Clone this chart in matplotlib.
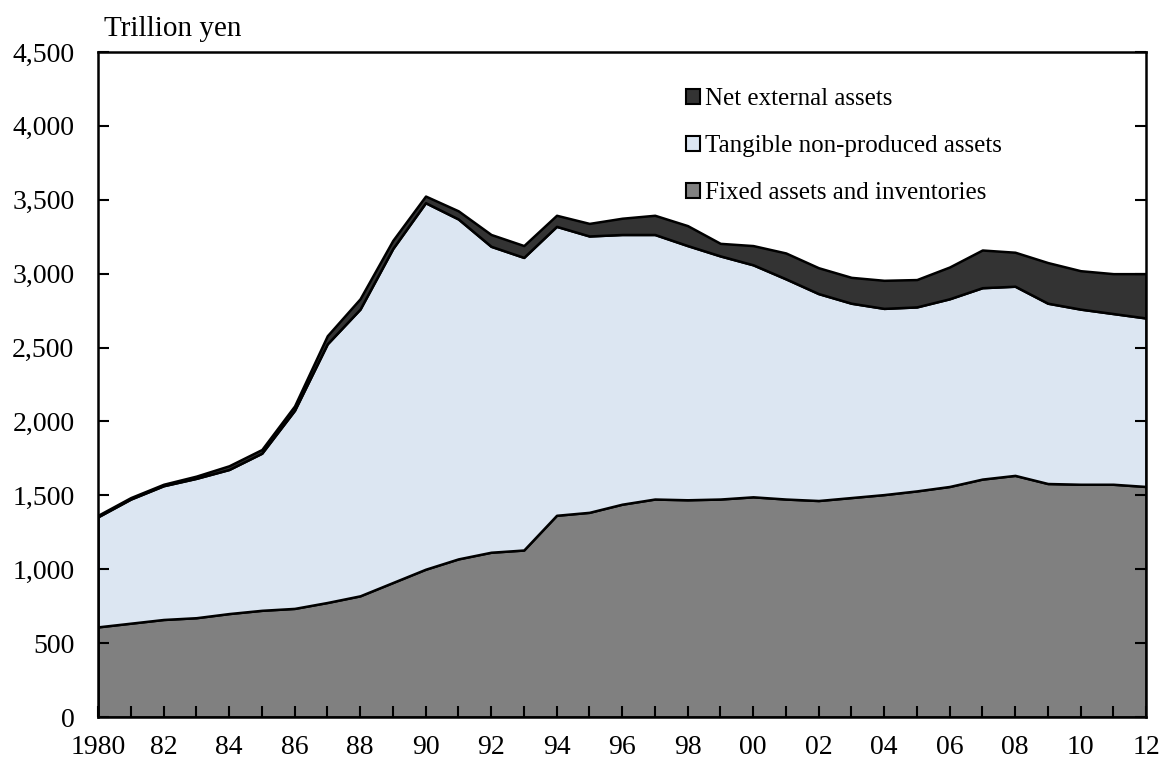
import numpy as np
import matplotlib.pyplot as plt
from matplotlib.patches import Patch
from matplotlib.ticker import FuncFormatter, MultipleLocator

plt.rcParams["font.family"] = ["Liberation Serif", "DejaVu Serif"]

years = list(range(1980, 2013))

# top of each layer (trillion yen)
fixed_assets = [610, 635, 660, 672, 700, 722, 735, 775, 820, 910,
                1000, 1070, 1115, 1130, 1365, 1385, 1440, 1475, 1470, 1475,
                1490, 1475, 1465, 1485, 1505, 1530, 1560, 1610, 1635, 1580,
                1575, 1575, 1560]
land_top = [1355, 1475, 1565, 1615, 1675, 1785, 2075, 2525, 2760, 3170,
            3480, 3370, 3185, 3110, 3320, 3255, 3265, 3265, 3190, 3120,
            3060, 2965, 2865, 2800, 2765, 2775, 2830, 2905, 2915, 2800,
            2760, 2730, 2700]
total_top = [1365, 1485, 1575, 1630, 1700, 1810, 2105, 2580, 2830, 3225,
             3525, 3425, 3265, 3190, 3395, 3340, 3375, 3395, 3325, 3205,
             3190, 3140, 3040, 2975, 2955, 2960, 3045, 3160, 3145, 3075,
             3020, 3000, 3000]

tangible = np.array(land_top) - np.array(fixed_assets)
net_external = np.array(total_top) - np.array(land_top)

colors = ["#808080", "#dce6f2", "#333333"]
labels = ["Fixed assets and inventories", "Tangible non-produced assets", "Net external assets"]

fig = plt.figure(figsize=(11.63, 7.61), dpi=100, facecolor="w")
ax = fig.add_axes([0.0843, 0.0578, 0.9011, 0.8739])

ax.stackplot(years, fixed_assets, tangible, net_external, colors=colors,
             edgecolor="black", linewidth=1.8)

ax.set_xlim(1980, 2012)
ax.set_ylim(0, 4500)
ax.yaxis.set_major_locator(MultipleLocator(500))
ax.yaxis.set_major_formatter(FuncFormatter(lambda v, p: f"{int(v):,}"))
ax.set_xticks(range(1980, 2013, 2))
ax.set_xticklabels(["1980"] + [f"{y % 100:02d}" for y in range(1982, 2013, 2)])
ax.xaxis.set_minor_locator(MultipleLocator(1))

ax.tick_params(axis="both", which="both", direction="in", labelsize=20, width=1.5)
ax.tick_params(axis="x", which="both", length=8, pad=13)
ax.tick_params(axis="y", length=8, pad=17, right=True)
for s in ax.spines.values():
    s.set_linewidth(1.8)

fig.text(0.089, 1 - 36 / 761, "Trillion yen", fontsize=21, ha="left", va="baseline")

handles = [Patch(facecolor=c, edgecolor="black", linewidth=1.5) for c in colors]
leg = ax.legend(handles[::-1], labels[::-1], loc="upper left", bbox_to_anchor=(0.54, 0.979),
                frameon=False, fontsize=18, handlelength=0.55, handleheight=0.55,
                handletextpad=0.2, labelspacing=1.0)

plt.savefig("out.png", dpi=100)
